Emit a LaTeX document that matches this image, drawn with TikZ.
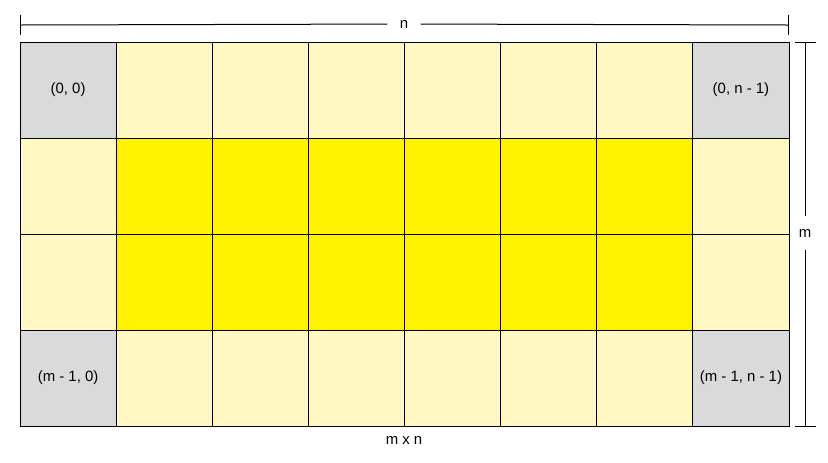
\documentclass[tikz,border=0pt]{standalone}
\usepackage{fontspec}
\setmainfont{Liberation Sans}
\usetikzlibrary{positioning}
\definecolor{cornergrey}{HTML}{DADADA}
\definecolor{edgeyellow}{HTML}{FFF8C2}
\definecolor{inneryellow}{HTML}{FFF200}

\begin{document}
\begin{tikzpicture}[
    x=0.75pt, y=-0.75pt,
    line width=0.75pt,
    every node/.style={font=\fontsize{11.2}{13}\selectfont},
    cell/.style={rectangle, draw, minimum width=72.09pt, minimum height=72pt, inner sep=0pt},
    kind0/.style={fill=inneryellow},
    kind1/.style={fill=edgeyellow},
    kind2/.style={fill=cornergrey},
    dimlabel/.style={inner xsep=9pt, inner ysep=2pt}
]
\useasboundingbox (0,0) rectangle (828,462);

% Grid of cells
\foreach \r in {0,...,3}{
  \foreach \c in {0,...,7}{
    \pgfmathtruncatemacro{\kind}{(\r==0||\r==3)+(\c==0||\c==7)}
    \node[cell, kind\kind] (c-\r-\c) at ({20+96.125*(\c+0.5)}, {42+96*(\r+0.5)}) {};
  }
}

% Corner labels
\node (l00) at (c-0-0) {(0, 0)};
\node (l07) at (c-0-7) {(0, n - 1)};
\node (l30) at (c-3-0) {(m - 1, 0)};
\node (l37) at (c-3-7) {(m - 1, n - 1)};

% Width
\coordinate (wl) at (20,25);
\coordinate (wr) at (788,25);
\node[dimlabel] (nlab) at (404,24) {n};
\draw (wl) -- (nlab) -- (wr);
\draw ([yshift=10*0.75pt]wl) -- ([yshift=-10*0.75pt]wl);
\draw ([yshift=10*0.75pt]wr) -- ([yshift=-10*0.75pt]wr);

% Height
\coordinate (ht) at (805,42);
\coordinate (hb) at (805,426);
\node[inner xsep=2pt, inner ysep=9pt] (mlab) at (805,233) {m};
\draw (ht) -- (mlab) -- (hb);
\draw ([xshift=-10*0.75pt]ht) -- ([xshift=11*0.75pt]ht);
\draw ([xshift=-10*0.75pt]hb) -- ([xshift=11*0.75pt]hb);

% Size
\node (size) at (404,440) {m x n};

\end{tikzpicture}
\end{document}
